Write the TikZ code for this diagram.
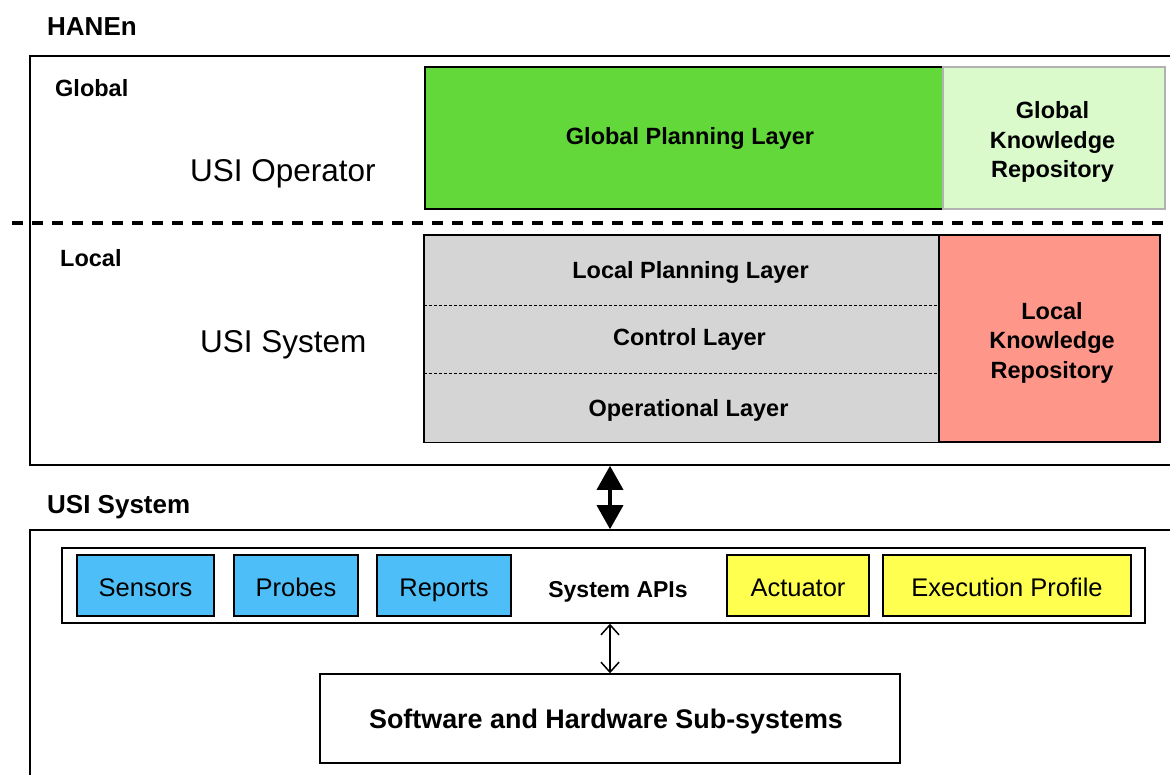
\documentclass[tikz,border=0pt]{standalone}
\usepackage{fontspec}
\setmainfont{Liberation Sans}
\usetikzlibrary{arrows.meta}
\definecolor{planGreen}{HTML}{63D83A}
\definecolor{repoGreen}{HTML}{DAFACB}
\definecolor{layerGray}{HTML}{D5D5D5}
\definecolor{repoRed}{HTML}{FF968A}
\definecolor{apiBlue}{HTML}{4DBEF8}
\definecolor{apiYellow}{HTML}{FFFF50}
\begin{document}
\begin{tikzpicture}[x=1pt,y=-1pt,
    outer/.style={draw, line width=1.6pt, minimum width=1170pt, inner sep=0pt},
    box/.style={draw, line width=1.4pt, inner sep=0pt, align=center},
    head/.style={inner sep=0pt, anchor=west, font=\fontsize{26}{30}\selectfont\bfseries},
    side/.style={inner sep=0pt, anchor=west, font=\fontsize{23.5}{29}\selectfont\bfseries},
    big/.style={inner sep=0pt, anchor=west, font=\fontsize{31.5}{36}\selectfont},
    bold/.style={font=\fontsize{23.5}{29.5}\selectfont\bfseries, align=center},
    plain/.style={font=\fontsize{25.5}{30}\selectfont},
    layer/.style={fill=layerGray, minimum width=515pt, inner sep=0pt},
    api/.style={box, minimum height=61pt, plain, text height=21pt, text depth=0pt}]
    \clip (0,0) rectangle (1170,774);
    % HANEn part
    \node[head] (hanenlbl) at (47,27) {HANEn};
    \node[outer, minimum height=409pt] (hanen) at (615,260.5) {};
    \node[side] (globallbl) at (55,88) {Global};
    \node[big] (operator) at (190,174) {USI Operator};
    \node[box, fill=planGreen, minimum width=518pt, minimum height=142pt,
        label={[bold, xshift=6]center:Global Planning Layer}] (gpl) at (684,138) {};
    \node[box, fill=repoGreen, draw=black!30, minimum width=222pt, minimum height=142pt,
        label={[bold, xshift=-1.5, yshift=-4]center:Global\\Knowledge\\Repository}] (gkr) at (1054,138) {};
    \draw[line width=3.5pt, dash pattern=on 11pt off 9pt] (12,223) -- (1175,223);
    \node[side] (locallbl) at (60,258) {Local};
    \node[big] (system) at (200,345) {USI System};
    \node[layer, minimum height=70pt, label={[bold, xshift=9, yshift=-2]center:Local Planning Layer}] (lpl) at (681.5,270) {};
    \node[layer, minimum height=68pt, label={[bold, xshift=8]center:Control Layer}] (ctl) at (681.5,339) {};
    \node[layer, minimum height=69pt, label={[bold, xshift=7, yshift=-3]center:Operational Layer}] (opl) at (681.5,407.5) {};
    \draw[line width=1pt, dash pattern=on 3pt off 2pt] (lpl.south west) -- (lpl.south east);
    \draw[line width=1pt, dash pattern=on 3pt off 2pt] (ctl.south west) -- (ctl.south east);
    \draw[line width=1.4pt] (lpl.north west) rectangle (opl.south east);
    \node[box, fill=repoRed, minimum width=221pt, minimum height=207pt,
        label={[bold, xshift=2.5, yshift=-4]center:Local\\Knowledge\\Repository}] (lkr) at (1049.5,338.5) {};
    % USI System part
    \node[head] (usilbl) at (47,507) {USI System};
    \node[outer, minimum height=270pt] (usi) at (615,665) {};
    \node[box, minimum width=1083pt, minimum height=75pt] (apis) at (603.5,585.5) {};
    \node[font=\fontsize{23}{27}\selectfont\bfseries] (apilbl) at (618,592) {System APIs};
    \node[api, fill=apiBlue, minimum width=137pt] (sensors) at (145.5,585.5) {Sensors};
    \node[api, fill=apiBlue, minimum width=124pt] (probes) at (296,585.5) {Probes};
    \node[api, fill=apiBlue, minimum width=134pt] (reports) at (444,585.5) {Reports};
    \node[api, fill=apiYellow, minimum width=142pt] (actuator) at (798,585.5) {Actuator};
    \node[api, fill=apiYellow, minimum width=248pt] (profile) at (1007,585.5) {Execution Profile};
    \node[box, minimum width=580pt, minimum height=89pt,
        label={[font=\fontsize{26.9}{32}\selectfont\bfseries, xshift=-4, yshift=-3]center:Software and Hardware Sub-systems}] (subsys) at (610,718.5) {};
    \draw[line width=3.5pt, {Triangle[length=24pt,width=26pt]}-{Triangle[length=24pt,width=26pt]}] (hanen.south -| subsys.north) -- (usi.north -| subsys.north);
    \draw[line width=1.5pt, {Straight Barb[length=10pt,width=18pt]}-{Straight Barb[length=10pt,width=18pt]}] (apis.south -| subsys.north) -- (subsys.north);
\end{tikzpicture}
\end{document}
